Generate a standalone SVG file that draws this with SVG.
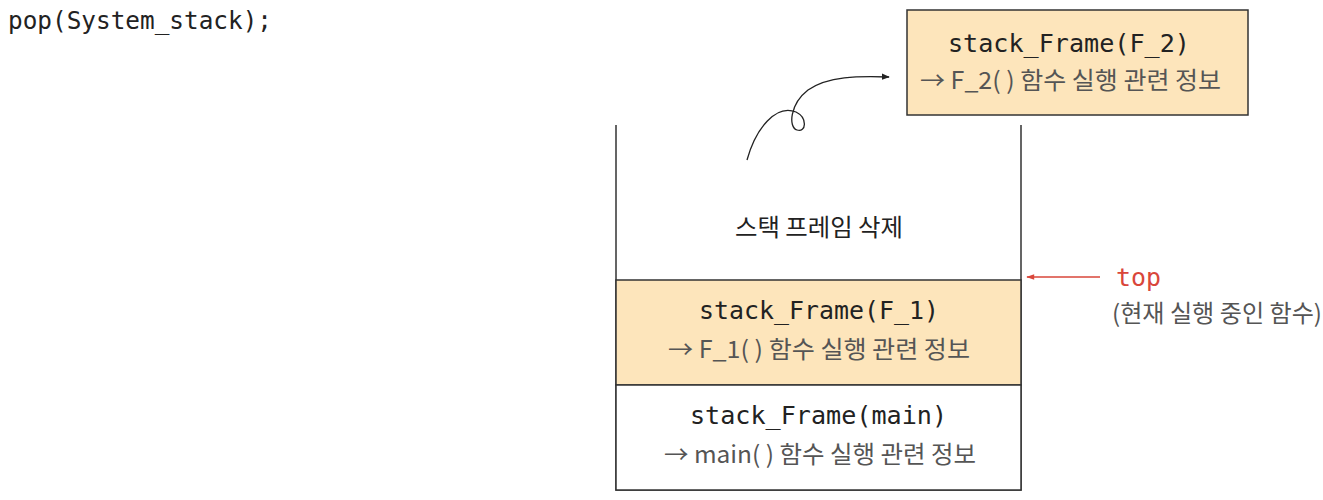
<svg xmlns="http://www.w3.org/2000/svg" width="1323" height="500" viewBox="0 0 1323 500">
<defs>
<style>
.mono{font-family:"DejaVu Sans Mono","Liberation Mono",monospace;font-size:25px;fill:#222}
.kr{font-family:"Noto Sans CJK KR","Noto Sans",sans-serif;font-size:24px;fill:#555}
.box{stroke:#333;stroke-width:1.5}
.frame{fill:#fde5bb}
</style>
<marker id="ah" viewBox="0 0 10 10" refX="9" refY="5" markerWidth="8" markerHeight="8" orient="auto" markerUnits="userSpaceOnUse">
<path d="M0,1 L10,5 L0,9 z" fill="#222"/>
</marker>
<marker id="ahr" viewBox="0 0 10 10" refX="9" refY="5" markerWidth="10" markerHeight="8" orient="auto" markerUnits="userSpaceOnUse">
<path d="M0,1.5 L10,5 L0,8.5 z" fill="#d9463a"/>
</marker>
</defs>
<rect width="1323" height="500" fill="#fff"/>
<g id="code">
<text class="mono" x="8" y="29" textLength="264" lengthAdjust="spacingAndGlyphs">pop(System_stack);</text>
</g>
<g id="stack">
<path d="M616,125 V490 H1021 V125" fill="none" class="box"/>
<text x="735" y="236" class="kr" style="fill:#222" textLength="168" lengthAdjust="spacingAndGlyphs">스택 프레임 삭제</text>
</g>
<g id="frame_F1">
<rect x="616" y="280" width="405" height="105" class="box frame"/>
<text class="mono" x="699" y="319" textLength="240" lengthAdjust="spacingAndGlyphs">stack_Frame(F_1)</text>
<text class="kr" x="668" y="358" textLength="302" lengthAdjust="spacingAndGlyphs">→ F_1( ) 함수 실행 관련 정보</text>
</g>
<g id="frame_main">
<rect x="616" y="385" width="405" height="105" fill="#fff" class="box"/>
<text class="mono" x="690" y="424" textLength="257" lengthAdjust="spacingAndGlyphs">stack_Frame(main)</text>
<text class="kr" x="664" y="463" textLength="312" lengthAdjust="spacingAndGlyphs">→ main( ) 함수 실행 관련 정보</text>
</g>
<g id="frame_F2">
<rect x="907" y="10" width="341" height="105" class="box frame"/>
<text class="mono" x="948" y="52" textLength="242" lengthAdjust="spacingAndGlyphs">stack_Frame(F_2)</text>
<text class="kr" x="920" y="89" textLength="301" lengthAdjust="spacingAndGlyphs">→ F_2( ) 함수 실행 관련 정보</text>
</g>
<g id="top_label">
<text class="mono" x="1116" y="286" textLength="45" lengthAdjust="spacingAndGlyphs" style="fill:#d9463a">top</text>
<text class="kr" x="1112" y="322" textLength="210" lengthAdjust="spacingAndGlyphs">(현재 실행 중인 함수)</text>
</g>
<g id="connectors">
<path d="M747,160 C756,128 776,104 796,112 C808,118 806,133 797,130 C788,127 790,104 808,90 C828,76 858,76 889,77" fill="none" stroke="#222" stroke-width="1.3" marker-end="url(#ah)"/>
<line x1="1100" y1="277" x2="1027" y2="277" stroke="#d9463a" stroke-width="1.5" marker-end="url(#ahr)"/>
</g>
</svg>
